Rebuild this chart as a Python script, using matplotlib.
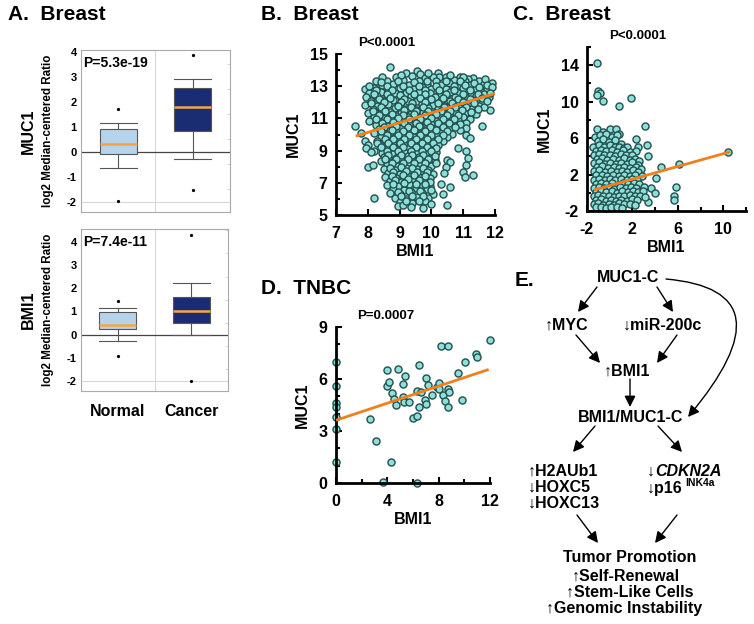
import matplotlib
matplotlib.use('Agg')
import matplotlib.pyplot as plt
from matplotlib.ticker import MultipleLocator, FixedLocator

plt.rcParams['font.family'] = ['Liberation Sans', 'DejaVu Sans']
plt.rcParams['font.weight'] = 'bold'
plt.rcParams['axes.labelweight'] = 'bold'
plt.rcParams['axes.unicode_minus'] = False

# ---- panel A: box plot summaries (log2 median-centered ratio) ----
groups = ['Normal', 'Cancer']
box_colors = ['#b7d3ec', '#1b2d72']

muc1_med = [0.31, 1.8]
muc1_q1 = [-0.07, 0.83]
muc1_q3 = [0.93, 2.56]
muc1_lo = [-0.64, -0.27]
muc1_hi = [1.17, 2.93]
muc1_fliers = [[1.73, -1.97], [3.87, -1.53]]

bmi1_med = [0.43, 1.02]
bmi1_q1 = [0.24, 0.48]
bmi1_q3 = [0.98, 1.62]
bmi1_lo = [-0.27, -0.03]
bmi1_hi = [1.14, 2.23]
bmi1_fliers = [[1.45, -0.92], [4.31, -1.99]]

# ---- panel B: Breast, BMI1 vs MUC1 ----
breast_b = [
    (8.70, 14.2), (9.20, 13.85), (9.55, 13.95), (9.65, 13.75), (10.20, 13.85), (10.25, 13.6),
    (8.90, 13.55), (9.40, 13.65), (9.80, 13.5), (10.05, 13.6), (10.45, 13.55), (10.90, 13.6), (11.30, 13.5), (11.15, 13.45),
    (8.25, 13.35), (8.60, 13.3), (9.10, 13.4), (9.60, 13.35), (10.15, 13.3), (10.70, 13.4), (11.05, 13.3), (11.50, 13.35), (11.90, 13.2),
    (8.45, 13.1), (8.80, 13.15), (9.30, 13.05), (9.85, 13.15), (10.30, 13.05), (10.55, 13.2), (10.85, 13.1), (11.20, 13.05), (11.65, 13.15),
    (7.90, 12.8), (8.20, 12.9), (8.65, 12.85), (9.00, 12.9), (9.45, 12.8), (9.70, 12.95), (10.00, 12.85), (10.45, 12.8), (11.00, 12.9), (11.40, 12.85), (11.75, 12.8),
    (8.05, 12.55), (8.40, 12.65), (8.85, 12.6), (9.20, 12.55), (9.60, 12.65), (9.95, 12.6), (10.25, 12.55), (10.60, 12.65), (10.85, 12.6), (11.25, 12.55), (11.55, 12.65),
    (7.95, 12.3), (8.30, 12.4), (8.60, 12.35), (9.05, 12.3), (9.35, 12.4), (9.80, 12.35), (10.10, 12.3), (10.45, 12.4), (10.75, 12.35), (11.05, 12.3), (11.40, 12.4), (11.80, 12.3),
    (8.10, 12.1), (8.50, 12.05), (8.80, 12.15), (9.25, 12.1), (9.55, 12.05), (9.90, 12.15), (10.30, 12.1), (10.60, 12.05), (10.95, 12.1), (11.30, 12.15), (11.60, 12.05),
    (7.90, 11.85), (8.30, 11.8), (8.65, 11.9), (9.00, 11.85), (9.40, 11.8), (9.70, 11.9), (10.05, 11.85), (10.40, 11.8), (10.80, 11.9), (11.15, 11.85), (11.50, 11.8), (11.85, 11.5),
    (8.15, 11.6), (8.45, 11.55), (8.85, 11.65), (9.20, 11.6), (9.55, 11.55), (9.90, 11.65), (10.20, 11.6), (10.60, 11.55), (10.90, 11.65), (11.25, 11.6), (11.65, 11.7),
    (8.00, 11.35), (8.30, 11.3), (8.70, 11.4), (9.05, 11.35), (9.35, 11.3), (9.75, 11.4), (10.10, 11.35), (10.45, 11.3), (10.75, 11.4), (11.05, 11.35), (11.40, 11.3),
    (8.20, 11.1), (8.55, 11.05), (8.90, 11.15), (9.25, 11.1), (9.60, 11.05), (9.95, 11.15), (10.30, 11.1), (10.65, 11.05), (11.00, 11.1), (11.20, 10.95),
    (8.05, 10.85), (8.40, 10.8), (8.75, 10.9), (9.10, 10.85), (9.45, 10.8), (9.80, 10.9), (10.15, 10.85), (10.50, 10.8), (10.85, 10.9), (11.10, 10.7),
    (7.60, 10.5), (8.25, 10.6), (8.60, 10.55), (8.95, 10.65), (9.30, 10.6), (9.65, 10.55), (10.00, 10.65), (10.35, 10.6), (10.70, 10.55), (11.10, 10.4), (11.60, 10.5),
    (8.35, 10.35), (8.70, 10.3), (9.05, 10.4), (9.45, 10.35), (9.80, 10.3), (10.15, 10.4), (10.55, 10.35), (10.90, 10.3),
    (7.80, 10.1), (8.20, 10.1), (8.55, 10.05), (8.90, 10.15), (9.25, 10.1), (9.60, 10.05), (9.95, 10.15), (10.30, 10.1), (10.65, 10.05), (11.10, 10.0),
    (8.40, 9.85), (8.75, 9.8), (9.10, 9.9), (9.45, 9.85), (9.80, 9.8), (10.15, 9.9), (10.50, 9.85), (11.20, 9.8),
    (7.90, 9.6), (8.30, 9.6), (8.60, 9.55), (8.95, 9.65), (9.30, 9.6), (9.65, 9.55), (10.00, 9.65), (10.35, 9.6),
    (8.00, 9.35), (8.45, 9.3), (8.80, 9.4), (9.15, 9.35), (9.50, 9.3), (9.85, 9.4), (10.20, 9.35),
    (7.95, 9.15), (8.20, 9.0), (8.60, 9.1), (8.95, 9.05), (9.30, 9.15), (9.65, 9.1), (10.00, 9.05), (10.85, 9.15), (11.10, 9.0),
    (8.10, 8.9), (8.45, 8.85), (8.80, 8.8), (9.15, 8.9), (9.50, 8.85), (9.85, 8.8), (10.15, 8.9), (11.15, 8.55),
    (8.50, 8.6), (8.90, 8.55), (9.25, 8.65), (9.60, 8.6), (9.95, 8.55), (10.50, 8.4),
    (8.40, 8.35), (8.70, 8.3), (9.05, 8.4), (9.40, 8.35), (9.75, 8.3), (10.10, 8.4), (10.60, 8.3), (11.10, 8.1),
    (8.00, 8.0), (8.15, 8.1), (8.60, 8.1), (8.95, 8.05), (9.30, 8.15), (9.65, 8.1), (10.00, 8.05), (10.45, 8.0),
    (8.50, 7.85), (8.85, 7.8), (9.20, 7.9), (9.55, 7.85), (9.90, 7.8), (10.40, 7.6), (11.00, 7.7),
    (8.65, 7.6), (9.00, 7.55), (9.35, 7.65), (9.70, 7.6), (10.05, 7.55), (11.30, 7.5), (11.05, 7.35),
    (8.55, 7.35), (8.90, 7.3), (9.25, 7.4), (9.60, 7.35), (9.95, 7.3),
    (8.70, 7.1), (9.05, 7.05), (9.40, 7.15), (9.75, 7.1),
    (8.60, 6.85), (8.95, 6.8), (9.30, 6.9), (9.65, 6.85), (9.95, 6.8), (10.30, 6.9), (10.60, 6.75),
    (8.80, 6.6), (9.15, 6.55), (9.50, 6.65), (9.85, 6.6),
    (8.70, 6.35), (9.00, 6.3), (9.35, 6.4), (9.70, 6.35), (10.05, 6.3), (10.35, 6.3),
    (8.20, 6.05), (8.85, 6.05), (9.20, 6.0), (9.55, 6.1), (9.90, 6.05),
    (9.00, 5.8), (9.40, 5.75), (9.80, 5.85), (10.00, 5.7),
    (8.95, 5.55), (9.10, 5.6), (9.35, 5.5), (9.75, 5.45), (10.50, 5.6),
    # points hidden in the dense body of the cloud
    (8.45, 13.6), (9.05, 13.7), (9.90, 13.8), (10.60, 13.7), (11.00, 13.55), (11.70, 13.45),
    (8.40, 13.25), (8.95, 13.3), (9.45, 13.25), (9.85, 13.3), (10.45, 13.3), (10.90, 13.35), (11.35, 13.2), (11.75, 13.05),
    (8.05, 13.0), (8.60, 13.0), (9.10, 13.0), (9.60, 13.0), (10.15, 13.0), (10.70, 13.0), (11.05, 13.05), (11.50, 12.95), (11.90, 12.95),
    (8.25, 12.75), (8.75, 12.75), (9.30, 12.75), (9.80, 12.75), (10.25, 12.75), (10.70, 12.75), (11.20, 12.75), (11.65, 12.5),
    (8.20, 12.5), (8.60, 12.5), (9.00, 12.45), (9.45, 12.5), (9.80, 12.5), (10.45, 12.5), (11.00, 12.5), (11.45, 12.5), (11.85, 12.55),
    (8.35, 12.2), (8.70, 12.25), (9.15, 12.2), (9.65, 12.25), (10.00, 12.2), (10.35, 12.25), (10.85, 12.2), (11.20, 12.2), (11.60, 12.25),
    (8.10, 11.95), (8.50, 12.0), (9.05, 12.0), (9.40, 11.95), (9.80, 12.0), (10.20, 11.95), (10.65, 11.95), (11.00, 12.0), (11.35, 11.95), (11.75, 12.05),
    (8.40, 11.7), (8.95, 11.75), (9.35, 11.7), (9.75, 11.7), (10.40, 11.7), (10.75, 11.7), (11.10, 11.7), (11.45, 11.6),
    (8.15, 11.45), (8.55, 11.45), (9.15, 11.5), (9.50, 11.45), (9.90, 11.45), (10.30, 11.45), (10.60, 11.45), (10.95, 11.5), (11.25, 11.4),
    (8.35, 11.2), (8.75, 11.25), (9.10, 11.2), (9.45, 11.25), (9.80, 11.2), (10.15, 11.25), (10.50, 11.2), (10.85, 11.2),
    (8.25, 10.95), (8.60, 10.95), (8.95, 11.0), (9.30, 10.95), (9.65, 10.95), (10.00, 11.0), (10.35, 10.95), (10.70, 10.95),
    (8.45, 10.7), (8.80, 10.75), (9.15, 10.7), (9.50, 10.7), (9.85, 10.75), (10.20, 10.7), (10.55, 10.7), (10.90, 10.65),
    (8.50, 10.45), (8.90, 10.5), (9.25, 10.45), (9.60, 10.5), (9.95, 10.45), (10.35, 10.45), (10.75, 10.45),
    (8.40, 10.2), (8.75, 10.25), (9.10, 10.2), (9.45, 10.25), (9.80, 10.2), (10.15, 10.25), (10.50, 10.2),
    (8.60, 9.95), (8.95, 10.0), (9.30, 9.95), (9.65, 9.95), (10.00, 10.0), (10.35, 9.95),
    (8.55, 9.7), (8.80, 9.7), (9.15, 9.75), (9.50, 9.7), (9.85, 9.7), (10.20, 9.75),
    (8.30, 9.45), (8.65, 9.45), (9.00, 9.5), (9.35, 9.45), (9.70, 9.5), (10.05, 9.45),
    (8.40, 9.2), (8.80, 9.25), (9.10, 9.2), (9.50, 9.25), (9.85, 9.2), (10.15, 9.15),
    (8.60, 8.95), (8.95, 9.0), (9.35, 8.95), (9.70, 8.95), (10.00, 8.95),
    (8.65, 8.7), (9.05, 8.75), (9.40, 8.7), (9.75, 8.7), (10.10, 8.65),
    (8.55, 8.45), (8.90, 8.45), (9.25, 8.5), (9.60, 8.45), (9.90, 8.45),
    (8.75, 8.2), (9.10, 8.25), (9.45, 8.2), (9.80, 8.2), (10.15, 8.2),
    (8.70, 7.95), (9.05, 8.0), (9.40, 7.95), (9.75, 7.95),
    (8.80, 7.7), (9.20, 7.75), (9.55, 7.7), (9.85, 7.7),
    (8.75, 7.45), (9.10, 7.5), (9.45, 7.5), (9.80, 7.45),
    (8.85, 7.2), (9.25, 7.25), (9.60, 7.2), (9.95, 7.05),
    (8.80, 6.95), (9.15, 7.0), (9.50, 6.95), (9.80, 6.95),
    (8.95, 6.45), (9.30, 6.5), (9.65, 6.5), (10.00, 6.55),
    (9.05, 6.15), (9.40, 6.2), (9.75, 6.2),
    (9.20, 5.85), (9.60, 5.9),
]
b_fit_bmi1 = [7.62, 12.0]
b_fit_muc1 = [9.9, 12.55]

# ---- panel C: Breast, second data set ----
breast_c = [
    (-1.1, 14.25), (-1.0, 11.2), (-0.85, 10.95), (-1.15, 10.7), (-0.6, 10.05), (0.8, 9.5), (1.9, 10.45),
    (3.1, 7.35), (2.3, 5.95), (3.3, 5.25), (3.35, 4.05), (4.5, 2.8), (4.1, 1.6), (3.6, 0.55), (4.0, -0.05),
    (3.4, -1.0), (5.8, 0.6), (5.65, -0.3), (5.65, -0.75), (6.1, 3.15), (10.45, 4.45),
    (-1.1, 7.05), (-0.55, 6.7), (0.05, 7.05), (0.55, 6.95), (0.85, 6.5),
    (-1.3, 6.15), (-0.85, 6.3), (-0.3, 6.45), (0.2, 6.15), (0.6, 6.3),
    (-1.0, 5.7), (-0.55, 5.85), (-0.05, 5.6), (0.45, 5.75), (1.0, 5.4),
    (-1.45, 5.05), (-0.95, 5.2), (-0.5, 5.05), (0.0, 5.2), (0.45, 5.0), (0.8, 5.05), (1.3, 4.95), (1.55, 5.0), (2.5, 5.05),
    (-1.2, 4.6), (-0.75, 4.7), (-0.3, 4.55), (0.2, 4.65), (0.65, 4.5), (1.2, 4.7), (1.75, 4.5), (2.3, 4.6),
    (-1.4, 4.15), (-0.95, 4.25), (-0.5, 4.1), (0.0, 4.2), (0.45, 4.05), (0.95, 4.25), (1.45, 4.1), (1.95, 4.2),
    (-1.15, 3.7), (-0.7, 3.8), (-0.2, 3.65), (0.3, 3.75), (0.8, 3.6), (1.25, 3.8), (1.75, 3.65), (2.2, 3.75), (2.6, 3.5),
    (-1.4, 3.25), (-0.9, 3.35), (-0.45, 3.2), (0.05, 3.3), (0.55, 3.15), (1.0, 3.3), (1.5, 3.2), (1.95, 3.35), (2.45, 3.1),
    (-1.15, 2.8), (-0.65, 2.9), (-0.15, 2.75), (0.35, 2.85), (0.85, 2.7), (1.3, 2.85), (1.8, 2.75), (2.3, 2.8), (2.75, 2.65),
    (-1.4, 2.35), (-0.9, 2.45), (-0.4, 2.3), (0.1, 2.4), (0.6, 2.25), (1.1, 2.4), (1.55, 2.3), (2.05, 2.45), (2.5, 2.25),
    (-1.2, 1.9), (-0.7, 2.0), (-0.2, 1.85), (0.3, 1.95), (0.8, 1.8), (1.3, 1.95), (1.75, 1.85), (2.2, 2.0), (2.85, 1.85),
    (-1.4, 1.45), (-0.95, 1.55), (-0.45, 1.4), (0.05, 1.5), (0.5, 1.35), (1.0, 1.5), (1.5, 1.4), (1.95, 1.55), (2.4, 1.35),
    (-1.2, 1.0), (-0.75, 1.1), (-0.3, 0.95), (0.2, 1.05), (0.7, 0.9), (1.2, 1.05), (1.65, 0.95), (2.1, 1.1), (2.6, 0.95),
    (-1.4, 0.55), (-0.95, 0.65), (-0.5, 0.5), (0.0, 0.6), (0.4, 0.45), (0.9, 0.6), (1.4, 0.5), (1.85, 0.65), (2.3, 0.5), (3.0, 0.6),
    (-1.2, 0.1), (-0.8, 0.2), (-0.3, 0.05), (0.2, 0.15), (0.6, 0.0), (1.1, 0.15), (1.6, 0.05), (2.05, 0.2), (2.5, 0.05), (2.9, 0.15),
    (-1.4, -0.35), (-1.0, -0.25), (-0.6, -0.4), (-0.1, -0.3), (0.4, -0.45), (0.85, -0.3), (1.3, -0.4), (1.8, -0.25), (2.25, -0.4), (2.7, -0.3), (3.15, -0.45),
    (-1.2, -0.8), (-0.8, -0.7), (-0.35, -0.85), (0.1, -0.75), (0.55, -0.9), (1.0, -0.75), (1.5, -0.85), (1.95, -0.7), (2.4, -0.8),
    (-1.4, -1.2), (-1.0, -1.15), (-0.55, -1.3), (-0.1, -1.2), (0.35, -1.3), (0.8, -1.15), (1.25, -1.25), (1.75, -1.2), (2.2, -1.3),
    (-1.2, -1.6), (-0.75, -1.55), (-0.3, -1.65), (0.15, -1.6), (0.6, -1.55), (1.05, -1.65),
]
c_fit_bmi1 = [-1.4, 10.6]
c_fit_muc1 = [0.3, 4.5]

# ---- panel D: TNBC ----
tnbc_d = [
    (0.0, 6.97), (0.0, 5.6), (0.0, 4.6), (0.0, 4.36), (0.0, 3.82), (0.0, 3.13), (0.0, 1.2),
    (2.65, 3.67), (3.1, 2.43), (3.7, 0.04), (4.3, 1.2), (3.95, 6.5), (3.95, 5.6), (4.15, 5.8),
    (4.4, 5.17), (4.55, 4.83), (4.7, 4.48), (4.8, 6.58), (5.25, 5.71), (5.35, 6.2), (5.2, 4.94),
    (5.3, 4.67), (5.7, 4.7), (6.3, 5.3), (6.45, 6.81), (6.45, 4.36), (6.0, 3.73), (6.35, 3.86),
    (6.6, 5.25), (6.9, 4.8), (7.05, 6.04), (7.2, 5.65), (7.0, 4.56), (7.45, 5.06), (7.85, 5.56),
    (8.05, 5.75), (8.0, 5.4), (8.2, 7.9), (8.7, 7.88), (8.35, 5.06), (8.5, 4.75), (8.75, 5.4),
    (8.8, 5.25), (8.75, 4.36), (9.5, 6.37), (9.85, 4.8), (10.05, 6.97), (10.9, 7.47), (11.0, 7.26),
    (12.0, 8.26), (6.3, 0.02),
]
d_fit_bmi1 = [0.0, 11.9]
d_fit_muc1 = [3.62, 6.55]

W, H = 754, 624
fig = plt.figure(figsize=(W / 100, H / 100), dpi=100)


def px_axes(left, top, right, bottom):
    return fig.add_axes([left / W, 1 - bottom / H, (right - left) / W, (bottom - top) / H])


def bold_ticks(ax):
    for lab in ax.get_xticklabels() + ax.get_yticklabels():
        lab.set_fontweight('bold')


def box_panel(ax, med, q1, q3, lo, hi, fliers, ylim, ptext, show_x):
    stats = [dict(med=med[i], q1=q1[i], q3=q3[i], whislo=lo[i], whishi=hi[i], fliers=fliers[i])
             for i in range(len(groups))]
    bp = ax.bxp(stats, positions=[1, 2], widths=0.5, capwidths=0.5, patch_artist=True,
                boxprops=dict(edgecolor='#555555', linewidth=0.8),
                medianprops=dict(color='#f5a545', linewidth=1.8),
                whiskerprops=dict(color='#555555', linewidth=0.8),
                capprops=dict(color='#555555', linewidth=0.8),
                flierprops=dict(marker='o', markersize=1.3, markerfacecolor='black',
                                markeredgecolor='black'))
    for patch, col in zip(bp['boxes'], box_colors):
        patch.set_facecolor(col)
    ax.axhline(0, color='#444444', lw=0.9, zorder=1)
    ax.axhline(-2, color='#d8d8d8', lw=0.8, zorder=0)
    ax.axvline(1.5, color='#d8d8d8', lw=0.8, zorder=0)
    ax.set_xlim(0.5, 2.5)
    ax.set_ylim(*ylim)
    for s in ax.spines.values():
        s.set_color('#aaaaaa')
        s.set_linewidth(0.8)
    ax.set_yticks(range(-2, 5))
    ax.yaxis.set_minor_locator(MultipleLocator(0.5))
    ax.tick_params(axis='y', which='major', length=0, pad=3, labelsize=8)
    ax.tick_params(axis='y', which='both', right=True, direction='in', color='#cccccc')
    ax.tick_params(axis='y', which='minor', left=False, length=2.5)
    if show_x:
        ax.set_xticks([1, 2])
        ax.set_xticklabels(groups, fontsize=11.5)
        ax.tick_params(axis='x', length=0, pad=9)
    else:
        ax.set_xticks([])
    bold_ticks(ax)
    ax.text(0.015, 0.92, ptext, transform=ax.transAxes, fontsize=10, va='center', ha='left')


def scatter_panel(ax, pts, fit_x, fit_y, xlim, ylim, xmaj, xmin, ymaj, ymin, ptext):
    xs = [p[0] for p in pts]
    ys = [p[1] for p in pts]
    ax.scatter(xs, ys, s=26, c='#8edfd9', edgecolors='#22504d', linewidths=1.0,
               zorder=2, clip_on=False)
    ax.plot(fit_x, fit_y, color='#f07f1e', lw=2, zorder=3, solid_capstyle='butt')
    ax.set_xlim(*xlim)
    ax.set_ylim(*ylim)
    for s in ['top', 'right']:
        ax.spines[s].set_visible(False)
    for s in ['left', 'bottom']:
        ax.spines[s].set_linewidth(2)
    ax.xaxis.set_major_locator(FixedLocator(xmaj))
    ax.xaxis.set_minor_locator(FixedLocator(xmin))
    ax.yaxis.set_major_locator(FixedLocator(ymaj))
    ax.yaxis.set_minor_locator(FixedLocator(ymin))
    ax.tick_params(which='both', direction='in', width=1.5, labelsize=11.5)
    ax.tick_params(which='major', length=4)
    ax.tick_params(which='minor', length=3)
    ax.tick_params(axis='y', pad=6)
    ax.tick_params(axis='x', pad=8)
    bold_ticks(ax)
    ax.set_xlabel('BMI1', fontsize=11.5, labelpad=2)
    ax.set_ylabel('MUC1', fontsize=11.5, labelpad=6)
    ax.text(0.32, 1.07, ptext, transform=ax.transAxes, fontsize=9.5, ha='center', va='center')


# panel A
ax_a1 = px_axes(81, 50, 230, 212)
box_panel(ax_a1, muc1_med, muc1_q1, muc1_q3, muc1_lo, muc1_hi, muc1_fliers,
          (-2.41, 4.07), 'P=5.3e-19', False)
ax_a2 = px_axes(81, 229, 228, 391)
box_panel(ax_a2, bmi1_med, bmi1_q1, bmi1_q3, bmi1_lo, bmi1_hi, bmi1_fliers,
          (-2.43, 4.55), 'P=7.4e-11', True)

# panel B
ax_b = px_axes(336, 54, 495, 215)
scatter_panel(ax_b, breast_b, b_fit_bmi1, b_fit_muc1, (7, 12), (5, 15),
              range(7, 13), [], [5, 7, 9, 11, 13, 15], [6, 8, 10, 12, 14], 'P<0.0001')

# panel C
ax_c = px_axes(587, 47, 746, 211)
scatter_panel(ax_c, breast_c, c_fit_bmi1, c_fit_muc1, (-2, 12), (-2, 16),
              [-2, 2, 6, 10], [0, 4, 8, 12], [-2, 2, 6, 10, 14], [0, 4, 8, 12, 16], 'P<0.0001')

# panel D
ax_d = px_axes(336, 327, 490, 483)
scatter_panel(ax_d, tnbc_d, d_fit_bmi1, d_fit_muc1, (0, 12), (0, 9),
              [0, 4, 8, 12], [2, 6, 10], [0, 3, 6, 9], [1, 2, 4, 5, 7, 8], 'P=0.0007')

# overlay in pixel units for titles, side labels and the diagram in E
cv = fig.add_axes([0, 0, 1, 1], zorder=5)
cv.set_xlim(0, W)
cv.set_ylim(H, 0)
cv.axis('off')
cv.patch.set_alpha(0)

for x, y, s in [(8, 15, 'A.  Breast'), (261, 15, 'B.  Breast'), (513, 15, 'C.  Breast'),
                (261, 289, 'D.  TNBC'), (515, 281, 'E.')]:
    cv.text(x, y, s, fontsize=15, ha='left', va='center')

for yc, gene in [(131, 'MUC1'), (310, 'BMI1')]:
    cv.text(28, yc, gene, fontsize=11.5, rotation=90, ha='center', va='center')
    cv.text(48, yc, 'log2 Median-centered Ratio', fontsize=8.4, rotation=90, ha='center', va='center')

fs = 11.5
cv.text(628, 278, 'MUC1-C', fontsize=fs, ha='center', va='center')
cv.text(567, 325, '↑MYC', fontsize=fs, ha='center', va='center')
cv.text(663, 325, '↓miR-200c', fontsize=fs, ha='center', va='center')
cv.text(627, 371, '↑BMI1', fontsize=fs, ha='center', va='center')
cv.text(631, 417, 'BMI1/MUC1-C', fontsize=fs, ha='center', va='center')
cv.text(528, 471, '↑H2AUb1', fontsize=fs, ha='left', va='center')
cv.text(528, 487, '↓HOXC5', fontsize=fs, ha='left', va='center')
cv.text(528, 503, '↓HOXC13', fontsize=fs, ha='left', va='center')
t1 = cv.text(647, 471, '↓', fontsize=fs, ha='left', va='center')
cv.annotate('CDKN2A', xy=(1, 471), xycoords=(t1, 'data'), fontsize=fs, style='italic',
            ha='left', va='center')
t2 = cv.text(647, 488, '↓p16', fontsize=fs, ha='left', va='center')
cv.annotate('INK4a', xy=(1, 483), xycoords=(t2, 'data'), xytext=(2, 0), textcoords='offset points',
            fontsize=7.5, ha='left', va='center')
cv.text(630, 557, 'Tumor Promotion', fontsize=fs, ha='center', va='center')
cv.text(626, 576, '↑Self-Renewal', fontsize=fs, ha='center', va='center')
cv.text(630, 592, '↑Stem-Like Cells', fontsize=fs, ha='center', va='center')
cv.text(624, 608, '↑Genomic Instability', fontsize=fs, ha='center', va='center')

arrow = dict(arrowstyle='-|>,head_length=0.6,head_width=0.3', color='black', lw=1,
             shrinkA=0, shrinkB=0, mutation_scale=11)
for (x0, y0), (x1, y1) in [((597, 287), (578, 312)), ((657, 287), (673, 312)),
                           ((576, 335), (600, 363)), ((677, 335), (657, 363)),
                           ((630, 379), (630, 407)), ((595, 426), (573, 452)),
                           ((658, 426), (682, 452)), ((577, 515), (598, 543)),
                           ((677, 515), (655, 543))]:
    cv.annotate('', xy=(x1, y1), xytext=(x0, y0), arrowprops=arrow)
cv.annotate('', xy=(688, 417), xytext=(666, 279),
            arrowprops=dict(arrow, connectionstyle='angle3,angleA=-5,angleB=50'))

fig.savefig('out.png', dpi=100)
